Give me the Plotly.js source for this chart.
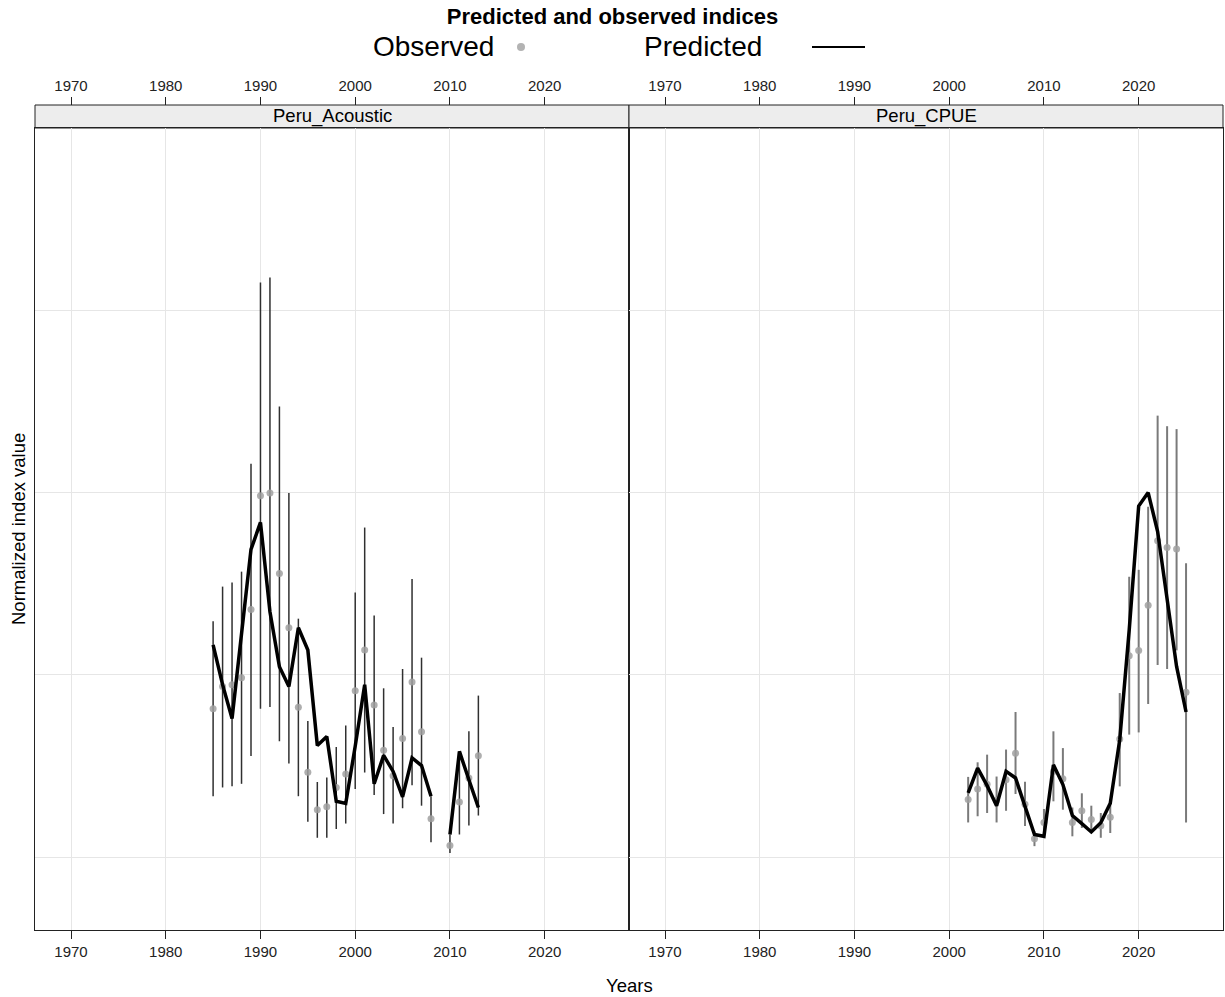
<!DOCTYPE html>
<html>
<head>
<meta charset="utf-8">
<script src="https://cdn.plot.ly/plotly-3.0.1.min.js"></script>
<style>html,body{margin:0;padding:0;background:#fff;}#chart{width:1225px;height:997px;}</style>
</head>
<body>
<div id="chart"></div>
<script>
// ---- Data: Peru_Acoustic ----
var acYears = [1985,1986,1987,1988,1989,1990,1991,1992,1993,1994,1995,1996,1997,1998,1999,2000,2001,2002,2003,2004,2005,2006,2007,2008,2010,2011,2012,2013];
var acObs   = [0.907,0.968,0.973,0.992,1.179,1.491,1.499,1.278,1.129,0.911,0.733,0.630,0.638,0.691,0.728,0.956,1.068,0.917,0.793,0.723,0.825,0.980,0.844,0.605,0.532,0.651,0.717,0.778];
var acUpper = [1.147,1.242,1.253,1.283,1.579,2.076,2.090,1.736,1.499,1.154,0.873,0.706,0.718,0.802,0.861,1.226,1.404,1.163,0.963,0.857,1.016,1.263,1.047,0.667,0.562,0.790,0.845,0.943];
var acLower = [0.667,0.691,0.694,0.701,0.777,0.907,0.912,0.818,0.757,0.667,0.597,0.553,0.553,0.577,0.592,0.687,0.732,0.670,0.618,0.592,0.634,0.697,0.641,0.541,0.511,0.562,0.587,0.614];
var acPredYears = [1985,1986,1987,1988,1989,1990,1991,1992,1993,1994,1995,1996,1997,1998,1999,2000,2001,2002,2003,2004,2005,2006,2007,2008,2009,2010,2011,2012,2013];
var acPred  = [1.082,0.973,0.880,1.119,1.344,1.418,1.173,1.022,0.968,1.129,1.068,0.806,0.831,0.653,0.647,0.804,0.973,0.701,0.779,0.735,0.665,0.772,0.751,0.667,null,0.562,0.790,0.712,0.636];

// ---- Data: Peru_CPUE ----
var cpYears = [2002,2003,2004,2005,2006,2007,2008,2009,2010,2011,2012,2013,2014,2015,2016,2017,2018,2019,2020,2021,2022,2023,2024,2025];
var cpObs   = [0.658,0.687,0.700,0.655,0.712,0.785,0.645,0.550,0.595,0.735,0.715,0.595,0.627,0.603,0.586,0.609,0.824,1.052,1.067,1.191,1.368,1.349,1.345,0.952];
var cpUpper = [0.720,0.760,0.781,0.721,0.795,0.898,0.707,0.571,0.632,0.845,0.799,0.636,0.675,0.641,0.621,0.653,0.950,1.269,1.288,1.461,1.711,1.682,1.674,1.306];
var cpLower = [0.595,0.612,0.621,0.595,0.627,0.673,0.585,0.530,0.557,0.653,0.630,0.557,0.580,0.566,0.553,0.566,0.694,0.836,0.842,0.920,1.027,1.016,1.067,0.595];
var cpPred  = [0.676,0.744,0.696,0.641,0.735,0.717,0.639,0.562,0.557,0.753,0.699,0.614,0.592,0.569,0.594,0.648,0.822,1.123,1.463,1.500,1.393,1.205,1.023,0.898];

var panelNames = ["Peru_Acoustic","Peru_CPUE"];
var yearTicks = [1970,1980,1990,2000,2010,2020];
var yTicks = [0.5,1,1.5,2];

function diff(a,b){return a.map(function(v,i){return +(v-b[i]).toFixed(4);});}

var FONT = "Liberation Sans, Arial, Helvetica, sans-serif";
var dotColor = "rgba(160,160,160,0.85)";

var traces = [
  {x:acYears, y:acObs, xaxis:"x", yaxis:"y", type:"scatter", mode:"markers", showlegend:false,
   marker:{color:dotColor, size:7},
   error_y:{type:"data", symmetric:false, array:diff(acUpper,acObs), arrayminus:diff(acObs,acLower), color:"#303030", thickness:1.5, width:0}},
  {x:acPredYears, y:acPred, xaxis:"x", yaxis:"y", type:"scatter", mode:"lines", showlegend:false, connectgaps:false,
   line:{color:"#000", width:3.5}},
  {x:cpYears, y:cpObs, xaxis:"x2", yaxis:"y2", type:"scatter", mode:"markers", showlegend:false,
   marker:{color:dotColor, size:7},
   error_y:{type:"data", symmetric:false, array:diff(cpUpper,cpObs), arrayminus:diff(cpObs,cpLower), color:"#7a7a7a", thickness:2, width:0}},
  {x:cpYears, y:cpPred, xaxis:"x2", yaxis:"y2", type:"scatter", mode:"lines", showlegend:false,
   line:{color:"#000", width:3.5}},
  {x:[null], y:[null], xaxis:"x3", yaxis:"y", type:"scatter", mode:"markers", showlegend:false, hoverinfo:"skip"},
  {x:[null], y:[null], xaxis:"x4", yaxis:"y2", type:"scatter", mode:"markers", showlegend:false, hoverinfo:"skip"}
];

var W = 1225, H = 997, mL = 35, mR = 2, mT = 105, mB = 67;
var pw = W - mL - mR, ph = H - mT - mB;
function px(x){return (x - mL)/pw;}
function py(y){return (H - mB - y)/ph;}
var panelTop = py(128);
var xr = [1966.2, 2028.9];
var yr = [0.3, 2.5];
var lineCol = "#222";

var xBase = {range:xr, tickvals:yearTicks, ticktext:yearTicks.map(String), ticks:"outside", ticklen:8, tickcolor:lineCol, tickwidth:1,
  showline:true, linecolor:lineCol, linewidth:1, mirror:true, showgrid:true, gridcolor:"#e6e6e6", gridwidth:1, zeroline:false,
  tickfont:{family:FONT, size:15, color:"#222"}, fixedrange:true};
var xTop = {range:xr, tickvals:yearTicks, ticktext:yearTicks.map(String), ticks:"outside", ticklen:8, tickcolor:lineCol, tickwidth:1,
  showline:false, showgrid:false, zeroline:false, side:"top", anchor:"free", position:1,
  tickfont:{family:FONT, size:15, color:"#222"}, fixedrange:true};
var yBase = {range:yr, domain:[0, panelTop], tickvals:yTicks, showticklabels:false, ticks:"", showline:true, linecolor:lineCol, linewidth:1,
  mirror:true, showgrid:true, gridcolor:"#e6e6e6", gridwidth:1, zeroline:false, fixedrange:true};

var layout = {
  width:W, height:H, margin:{l:mL, r:mR, t:mT, b:mB},
  paper_bgcolor:"#fff", plot_bgcolor:"#fff",
  font:{family:FONT, color:"#000"},
  showlegend:false,
  title:{text:"<b>Predicted and observed indices</b>", font:{family:FONT, size:22, color:"#000"}, x:0.5, xanchor:"center", xref:"container", y:1-16/H, yanchor:"middle", yref:"container"},
  xaxis: Object.assign({}, xBase, {domain:[0,0.5], anchor:"y"}),
  xaxis2: Object.assign({}, xBase, {domain:[0.5,1], anchor:"y2"}),
  xaxis3: Object.assign({}, xTop, {overlaying:"x", domain:[0,0.5]}),
  xaxis4: Object.assign({}, xTop, {overlaying:"x2", domain:[0.5,1]}),
  yaxis: Object.assign({}, yBase, {anchor:"x"}),
  yaxis2: Object.assign({}, yBase, {anchor:"x2", matches:"y"}),
  shapes:[
    {type:"rect", xref:"paper", yref:"paper", x0:0, x1:0.5, y0:panelTop, y1:1, fillcolor:"#ededed", line:{color:lineCol, width:1}, layer:"below"},
    {type:"rect", xref:"paper", yref:"paper", x0:0.5, x1:1, y0:panelTop, y1:1, fillcolor:"#ededed", line:{color:lineCol, width:1}, layer:"below"},
    {type:"circle", xref:"paper", yref:"paper", x0:px(517), x1:px(525), y0:py(51), y1:py(43), fillcolor:"#b3b3b3", line:{width:0}},
    {type:"line", xref:"paper", yref:"paper", x0:px(812), x1:px(865), y0:py(47), y1:py(47), line:{color:"#000", width:2}}
  ],
  annotations:[
    {text:panelNames[0], xref:"paper", yref:"paper", x:0.25, y:(panelTop+1)/2, xanchor:"center", yanchor:"middle", showarrow:false, font:{family:FONT, size:18.5, color:"#000"}},
    {text:panelNames[1], xref:"paper", yref:"paper", x:0.75, y:(panelTop+1)/2, xanchor:"center", yanchor:"middle", showarrow:false, font:{family:FONT, size:18.5, color:"#000"}},
    {text:"Observed", xref:"paper", yref:"paper", x:px(496), y:py(47), xanchor:"right", yanchor:"middle", showarrow:false, font:{family:FONT, size:28, color:"#000"}},
    {text:"Predicted", xref:"paper", yref:"paper", x:px(764), y:py(47), xanchor:"right", yanchor:"middle", showarrow:false, font:{family:FONT, size:28, color:"#000"}},
    {text:"Normalized index value", xref:"paper", yref:"paper", x:px(18), y:py(529), xanchor:"center", yanchor:"middle", textangle:-90, showarrow:false, font:{family:FONT, size:18.5, color:"#000"}},
    {text:"Years", xref:"paper", yref:"paper", x:px(629), y:py(985), xanchor:"center", yanchor:"middle", showarrow:false, font:{family:FONT, size:18.5, color:"#000"}}
  ]
};

Plotly.newPlot("chart", traces, layout, {displayModeBar:false, staticPlot:true});
</script>
</body>
</html>
